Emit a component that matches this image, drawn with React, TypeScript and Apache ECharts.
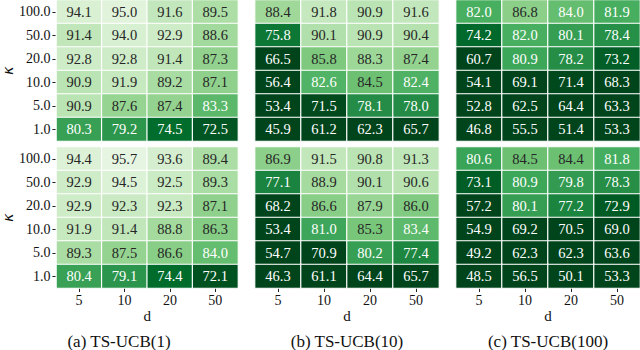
import React, { useEffect, useRef } from "react";
import * as echarts from "echarts";

const dLabels = ["5", "10", "20", "50"];
const kLabels = ["100.0", "50.0", "20.0", "10.0", "5.0", "1.0"]; // top to bottom
const captions = ["(a) TS-UCB(1)", "(b) TS-UCB(10)", "(c) TS-UCB(100)"];

// rows top to bottom: K = 100, 50, 20, 10, 5, 1 ; cols d = 5, 10, 20, 50
const aTop = [
  [94.1, 95.0, 91.6, 89.5],
  [91.4, 94.0, 92.9, 88.6],
  [92.8, 92.8, 91.4, 87.3],
  [90.9, 91.9, 89.2, 87.1],
  [90.9, 87.6, 87.4, 83.3],
  [80.3, 79.2, 74.5, 72.5],
];
const aBottom = [
  [94.4, 95.7, 93.6, 89.4],
  [92.9, 94.5, 92.5, 89.3],
  [92.9, 92.3, 92.3, 87.1],
  [91.9, 91.4, 88.8, 86.3],
  [89.3, 87.5, 86.6, 84.0],
  [80.4, 79.1, 74.4, 72.1],
];
const bTop = [
  [88.4, 91.8, 90.9, 91.6],
  [75.8, 90.1, 90.9, 90.4],
  [66.5, 85.8, 88.3, 87.4],
  [56.4, 82.6, 84.5, 82.4],
  [53.4, 71.5, 78.1, 78.0],
  [45.9, 61.2, 62.3, 65.7],
];
const bBottom = [
  [86.9, 91.5, 90.8, 91.3],
  [77.1, 88.9, 90.1, 90.6],
  [68.2, 86.6, 87.9, 86.0],
  [53.4, 81.0, 85.3, 83.4],
  [54.7, 70.9, 80.2, 77.4],
  [46.3, 61.1, 64.4, 65.7],
];
const cTop = [
  [82.0, 86.8, 84.0, 81.9],
  [74.2, 82.0, 80.1, 78.4],
  [60.7, 80.9, 78.2, 73.2],
  [54.1, 69.1, 71.4, 68.3],
  [52.8, 62.5, 64.4, 63.3],
  [46.8, 55.5, 51.4, 53.3],
];
const cBottom = [
  [80.6, 84.5, 84.4, 81.8],
  [73.1, 80.9, 79.8, 78.3],
  [57.2, 80.1, 77.2, 72.9],
  [54.9, 69.2, 70.5, 69.0],
  [49.2, 62.3, 62.3, 63.6],
  [48.5, 56.5, 50.1, 53.3],
];

const panels = [aTop, bTop, cTop, aBottom, bBottom, cBottom];

const greens = ["#00441b", "#006d2c", "#238b45", "#41ab5d", "#74c476", "#a1d99b", "#c7e9c0", "#e5f5e0", "#f7fcf5"];
const SERIF = "Liberation Serif";

export default function App() {
  const ref = useRef<HTMLDivElement>(null);
  useEffect(() => {
    if (!ref.current) return;
    const chart = echarts.init(ref.current, null, { renderer: "svg" });
    const lefts = [54, 255, 456];
    const W = 184;
    const captionX = [119, 347, 548];
    const tops = [0, 147];
    const grids: any[] = [];
    const xAxes: any[] = [];
    const yAxes: any[] = [];
    const series: any[] = [];
    const yData = kLabels.slice().reverse();
    panels.forEach((p, i) => {
      const col = i % 3;
      const row = Math.floor(i / 3);
      grids.push({ left: lefts[col], top: tops[row], width: W, height: 141 });
      const bottom = row === 1;
      xAxes.push({
        type: "category",
        gridIndex: i,
        data: dLabels,
        position: "bottom",
        axisLine: { show: false },
        axisTick: { show: bottom, alignWithLabel: true, length: 4, lineStyle: { color: "#222" } },
        axisLabel: { show: bottom, fontFamily: SERIF, fontSize: 14, color: "#111", margin: 5 },
        splitLine: { show: false },
        name: bottom ? "d" : "",
        nameLocation: "middle",
        nameGap: 20,
        nameTextStyle: { fontFamily: SERIF, fontSize: 15, color: "#111" },
      });
      const left = col === 0;
      yAxes.push({
        type: "category",
        gridIndex: i,
        data: yData,
        axisLine: { show: false },
        axisTick: { show: left, alignWithLabel: true, length: 4, lineStyle: { color: "#222" } },
        axisLabel: { show: left, fontFamily: SERIF, fontSize: 14, color: "#111", margin: 6 },
        splitLine: { show: false },
        name: left ? "κ" : "",
        nameLocation: "middle",
        nameGap: 38,
        nameRotate: 90,
        nameTextStyle: { fontFamily: "DejaVu Sans", fontSize: 14, fontStyle: "italic", color: "#111" },
      });
      const data: any[] = [];
      p.forEach((r, ri) => {
        r.forEach((v, ci) => {
          data.push({
            value: [ci, 5 - ri, v],
            label: { color: v < 84.2 ? "#ffffff" : "#262626" },
          });
        });
      });
      series.push({
        type: "heatmap",
        xAxisIndex: i,
        yAxisIndex: i,
        data,
        itemStyle: { borderColor: "#ffffff", borderWidth: 1.2 },
        label: {
          show: true,
          fontFamily: SERIF,
          fontSize: 14.5,
          formatter: (pp: any) => pp.value[2].toFixed(1),
        },
        emphasis: { disabled: true },
      });
    });
    chart.setOption({
      animation: false,
      backgroundColor: "#ffffff",
      grid: grids,
      xAxis: xAxes,
      yAxis: yAxes,
      visualMap: {
        show: false,
        type: "continuous",
        min: 71,
        max: 99,
        seriesIndex: series.map((_, i) => i),
        dimension: 2,
        inRange: { color: greens },
      },
      series,
      graphic: captions.map((c, i) => ({
        type: "text",
        x: captionX[i],
        y: 341,
        style: {
          text: c,
          fontFamily: SERIF,
          fontSize: 17,
          fill: "#111",
          align: "center",
          verticalAlign: "middle",
        },
      })),
    });
    return () => chart.dispose();
  }, []);
  return (
    <div
      ref={ref}
      style={{ position: "absolute", left: 0, top: 0, width: 640, height: 350 }}
    />
  );
}
